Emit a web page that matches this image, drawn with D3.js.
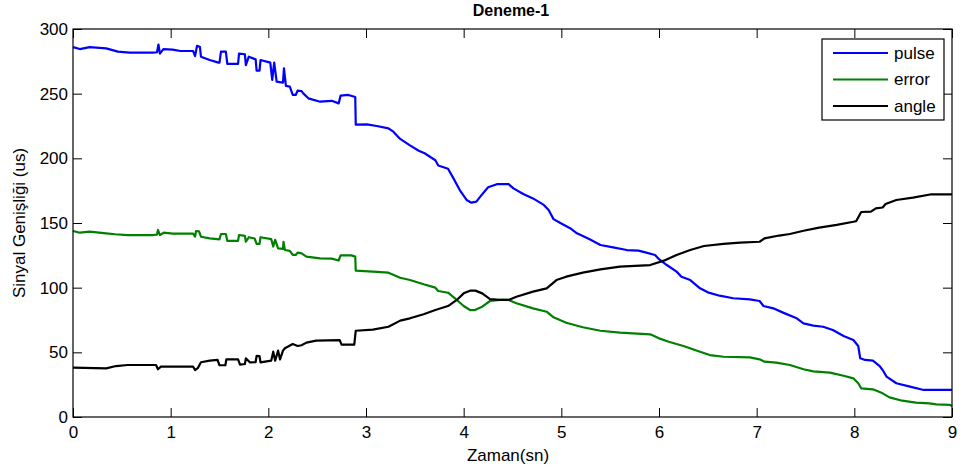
<!DOCTYPE html>
<html>
<head>
<meta charset="utf-8">
<script src="https://cdn.jsdelivr.net/npm/d3@7"></script>
<style>
body { margin: 0; background: #fff; }
text { font-family: "Liberation Sans", Arial, sans-serif; }
</style>
</head>
<body>
<div id="chart"></div>
<script>
// values
var pulseT = [0, 0.07, 0.17, 0.34, 0.46, 0.58, 0.82, 0.86, 0.875, 0.89, 0.925, 1.02, 1.10, 1.23, 1.25, 1.27, 1.30, 1.31, 1.40, 1.49, 1.50, 1.515, 1.565, 1.58, 1.69, 1.70, 1.76, 1.77, 1.80, 1.87, 1.88, 1.91, 1.92, 2.02, 2.04, 2.06, 2.085, 2.15, 2.16, 2.18, 2.22, 2.25, 2.28, 2.30, 2.34, 2.36, 2.41, 2.53, 2.65, 2.72, 2.74, 2.82, 2.89, 2.895, 3.01, 3.11, 3.23, 3.28, 3.35, 3.45, 3.54, 3.60, 3.71, 3.74, 3.84, 3.89, 3.96, 4.03, 4.08, 4.13, 4.17, 4.25, 4.34, 4.46, 4.51, 4.61, 4.71, 4.82, 4.87, 4.92, 4.99, 5.09, 5.16, 5.29, 5.40, 5.53, 5.67, 5.79, 5.87, 5.96, 6.00, 6.08, 6.18, 6.23, 6.32, 6.42, 6.50, 6.62, 6.76, 6.93, 7.03, 7.07, 7.17, 7.27, 7.41, 7.48, 7.58, 7.68, 7.78, 7.89, 7.99, 8.04, 8.06, 8.11, 8.19, 8.26, 8.29, 8.33, 8.43, 8.57, 8.71, 9.00];
var pulseV = [286, 284.5, 286, 285, 282.5, 281.7, 281.7, 282, 288, 281, 284.5, 284, 283, 283, 279, 287, 286, 278.6, 276, 274, 274, 282.5, 282.5, 273, 273, 281, 280.5, 272, 278.6, 276.5, 267.8, 267.8, 276, 274, 260.6, 274, 259.3, 258.5, 269.6, 256, 255.5, 249, 249, 252.3, 252, 250, 246.4, 243.8, 244.5, 242.5, 248.5, 249, 247.4, 226, 226.3, 225, 223.2, 220.6, 215, 210, 205.9, 203.9, 198.5, 194.5, 192, 185.3, 175.5, 167.8, 165.7, 166.5, 170.4, 177.6, 180, 180, 176.8, 172.4, 169, 164, 160, 153, 150, 146, 142, 137.4, 133, 131.2, 129.1, 128.6, 127.1, 125.3, 122, 117.5, 112.4, 108.5, 105.9, 99.5, 96.4, 93.8, 91.8, 91, 89.7, 85.8, 84, 80.7, 76.3, 72.4, 70.6, 69.8, 67.3, 62.6, 59.5, 54.9, 45.4, 44.1, 43.6, 39.4, 36.3, 31.2, 26.1, 23.5, 20.9, 20.9];

var errorT = [0, 0.07, 0.17, 0.34, 0.43, 0.56, 0.82, 0.86, 0.87, 0.89, 0.93, 1.02, 1.23, 1.25, 1.26, 1.29, 1.31, 1.40, 1.50, 1.515, 1.565, 1.58, 1.69, 1.70, 1.76, 1.77, 1.80, 1.86, 1.88, 1.91, 1.92, 2.03, 2.05, 2.07, 2.10, 2.15, 2.155, 2.17, 2.22, 2.25, 2.28, 2.30, 2.34, 2.39, 2.53, 2.65, 2.72, 2.74, 2.85, 2.89, 2.895, 3.07, 3.23, 3.35, 3.45, 3.59, 3.71, 3.74, 3.84, 3.93, 4.00, 4.065, 4.12, 4.19, 4.27, 4.37, 4.46, 4.54, 4.71, 4.85, 4.92, 5.05, 5.22, 5.40, 5.60, 5.91, 6.00, 6.10, 6.25, 6.42, 6.52, 6.66, 6.93, 7.03, 7.08, 7.20, 7.34, 7.48, 7.58, 7.75, 7.89, 7.99, 8.04, 8.07, 8.19, 8.29, 8.36, 8.49, 8.63, 8.77, 8.84, 8.98, 9.00];
var errorV = [143.8, 142.5, 143.3, 142, 141.3, 140.7, 140.7, 141, 144.6, 140.7, 142.5, 141.8, 141.8, 139.5, 143.8, 143.5, 139.4, 138.1, 137.4, 141.5, 141.5, 136.2, 136.2, 140.7, 140, 135.5, 139, 138, 133.8, 133.8, 139, 137.5, 131.8, 137, 130.4, 130, 135.5, 129.1, 128.5, 125.3, 125.3, 127.1, 126.5, 124, 122.7, 122.5, 121, 125, 125, 124, 113.2, 112.4, 111.6, 107.7, 105.9, 102.6, 100, 97.4, 96.1, 90.5, 85.8, 82.7, 82.9, 85.3, 89.7, 90.5, 90.5, 87.9, 84, 81.4, 77.1, 72.9, 69.4, 66.7, 65.2, 63.9, 60.8, 58.2, 54.9, 50.5, 47.9, 46.6, 46.1, 44.6, 42.8, 42, 40.2, 36.9, 35.3, 34.3, 31.9, 29.9, 26.1, 22.2, 21.4, 18.3, 15.2, 12.6, 11.1, 10.6, 9.8, 9.3, 8.5];

var angleT = [0, 0.34, 0.44, 0.56, 0.85, 0.87, 0.90, 1.23, 1.25, 1.28, 1.31, 1.40, 1.48, 1.50, 1.56, 1.57, 1.69, 1.71, 1.76, 1.77, 1.81, 1.87, 1.88, 1.91, 1.92, 2.03, 2.05, 2.07, 2.10, 2.12, 2.15, 2.17, 2.25, 2.30, 2.34, 2.39, 2.49, 2.73, 2.75, 2.88, 2.895, 3.07, 3.23, 3.35, 3.45, 3.59, 3.71, 3.84, 3.93, 4.00, 4.065, 4.12, 4.19, 4.27, 4.37, 4.46, 4.54, 4.71, 4.85, 4.95, 5.05, 5.22, 5.40, 5.60, 5.91, 6.05, 6.18, 6.32, 6.46, 6.66, 6.83, 7.03, 7.08, 7.23, 7.34, 7.48, 7.64, 7.82, 7.99, 8.02, 8.07, 8.17, 8.22, 8.29, 8.32, 8.43, 8.60, 8.79, 9.00];
var angleV = [38.1, 37.6, 39.4, 40.2, 40.2, 36.9, 38.9, 38.9, 36.3, 38, 42.3, 43.6, 44.1, 40, 40, 44.6, 44.6, 40.5, 41, 45.4, 42.3, 42.5, 47.2, 47, 42.3, 43.6, 50.5, 43.5, 51.3, 44.5, 51.3, 53.1, 56.4, 54.9, 55.5, 57.5, 59, 59.5, 56, 56, 66.7, 67.5, 69.8, 74.5, 76.3, 79.4, 82.7, 85.8, 90.5, 95.6, 97.7, 97.7, 95.6, 91.2, 90.5, 90.5, 93, 96.9, 99.5, 105.9, 108.5, 111.6, 114.2, 116.2, 117.5, 120.9, 125.3, 129.1, 132.2, 133.8, 134.8, 135.5, 138.1, 140.3, 141.5, 144, 146.4, 148.5, 151, 151.5, 158.5, 158.8, 161.3, 162, 164.7, 167.8, 169.6, 172.2, 172.2];

var seriesNames = ['pulse', 'error', 'angle'];
var seriesColors = ['#0000ff', '#008000', '#000000'];
var xTicks = [0, 1, 2, 3, 4, 5, 6, 7, 8, 9];
var yTicks = [0, 50, 100, 150, 200, 250, 300];

var margin = {
        top: 29,
        right: 11,
        bottom: 58,
        left: 73
    },
    width = 963 - margin.left - margin.right,
    height = 475 - margin.top - margin.bottom;

var svg = d3.select('#chart')
    .append('svg')
    .attr('width', 963)
    .attr('height', 475)
var canvas = svg.append('g')
    .attr('transform', 'translate(' + margin.left + ',' + margin.top + ')')

var x = d3.scaleLinear().domain([0, 9]).range([0, width]);
var y = d3.scaleLinear().domain([0, 300]).range([height, 0]);

function zipSeries(t, v) {
    return t.map(function (d, i) {
        return [d, v[i]];
    });
}
var series = [zipSeries(pulseT, pulseV), zipSeries(errorT, errorV), zipSeries(angleT, angleV)];

// axes, ticks point inward like matlab
canvas.append('g')
    .attr('transform', 'translate(0,' + height + ')')
    .call(d3.axisBottom(x).tickValues(xTicks).tickSizeInner(-9).tickSizeOuter(0).tickPadding(9))
canvas.append('g')
    .call(d3.axisLeft(y).tickValues(yTicks).tickSizeInner(-9).tickSizeOuter(0).tickPadding(5))
canvas.append('g')
    .call(d3.axisTop(x).tickValues(xTicks).tickSizeInner(-9).tickSizeOuter(0).tickFormat(''))
canvas.append('g')
    .attr('transform', 'translate(' + width + ',0)')
    .call(d3.axisRight(y).tickValues(yTicks).tickSizeInner(-9).tickSizeOuter(0).tickFormat(''))
canvas.selectAll('.domain').remove()
canvas.selectAll('.tick line').attr('stroke', '#000')
canvas.selectAll('.tick text')
    .attr('fill', '#000')
    .attr('font-size', 17)

var line = d3.line()
    .x(function (d) { return x(d[0]); })
    .y(function (d) { return y(d[1]); });

canvas.selectAll('.series')
    .data(series)
    .enter()
    .append('path')
    .attr('class', 'series')
    .attr('d', line)
    .attr('fill', 'none')
    .attr('stroke', function (d, i) { return seriesColors[i]; })
    .attr('stroke-width', 2.2)
    .attr('stroke-linejoin', 'round')

canvas.append('rect')
    .attr('x', 0)
    .attr('y', 0)
    .attr('width', width)
    .attr('height', height)
    .attr('fill', 'none')
    .attr('stroke', '#000')
    .attr('stroke-width', 1.2)

// legend
var legend = svg.append('g').attr('transform', 'translate(822,39)')
legend.append('rect')
    .attr('width', 122)
    .attr('height', 81)
    .attr('fill', '#fff')
    .attr('stroke', '#000')
    .attr('stroke-width', 1.2)
var rows = legend.selectAll('.row')
    .data(seriesNames)
    .enter()
    .append('g')
    .attr('transform', function (d, i) { return 'translate(0,' + (14 + i * 26.5) + ')'; })
rows.append('line')
    .attr('x1', 11)
    .attr('x2', 66)
    .attr('stroke', function (d, i) { return seriesColors[i]; })
    .attr('stroke-width', 2.2)
rows.append('text')
    .attr('x', 72)
    .attr('dy', '0.35em')
    .attr('font-size', 17)
    .text(function (d) { return d; })

// titles
svg.append('text')
    .attr('x', 511)
    .attr('y', 16)
    .attr('text-anchor', 'middle')
    .attr('font-size', 16)
    .attr('font-weight', 'bold')
    .text('Deneme-1')
svg.append('text')
    .attr('x', 508)
    .attr('y', 461)
    .attr('text-anchor', 'middle')
    .attr('font-size', 17)
    .text('Zaman(sn)')
svg.append('text')
    .attr('transform', 'translate(25,' + (margin.top + height / 2) + ') rotate(-90)')
    .attr('text-anchor', 'middle')
    .attr('font-size', 17)
    .text('Sinyal Genişliği (us)')
</script>
</body>
</html>
